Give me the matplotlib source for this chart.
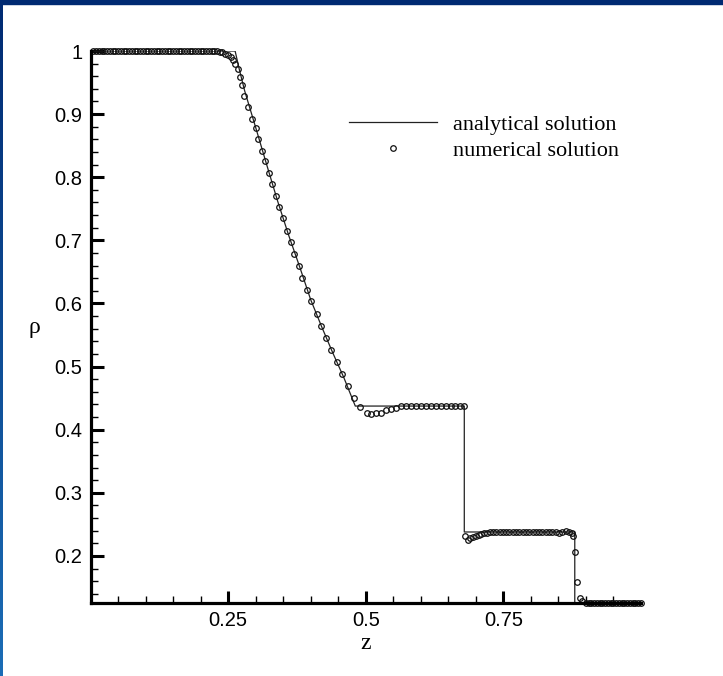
import numpy as np
import matplotlib
matplotlib.use("Agg")
import matplotlib.pyplot as plt
from matplotlib.patches import Rectangle

# analytical solution (exact Riemann solution)
z_exact = [0.0, 0.2627, 0.27, 0.28, 0.30, 0.32, 0.34, 0.36, 0.38, 0.40, 0.42,
           0.44, 0.46, 0.481, 0.679, 0.679, 0.8797, 0.8797, 1.0]
rho_exact = [1.0, 1.0, 0.972, 0.937, 0.879, 0.820, 0.762, 0.708, 0.658, 0.606,
             0.563, 0.522, 0.483, 0.4375, 0.4375, 0.238, 0.238, 0.125, 0.125]

# numerical solution, point by point
z_num = [
    0.005, 0.010, 0.015, 0.020, 0.025, 0.030, 0.035, 0.040, 0.045, 0.050,
    0.055, 0.060, 0.065, 0.070, 0.075, 0.080, 0.085, 0.090, 0.095, 0.100,
    0.105, 0.110, 0.115, 0.120, 0.125, 0.130, 0.135, 0.140, 0.145, 0.150,
    0.155, 0.160, 0.165, 0.170, 0.175, 0.180, 0.185, 0.190, 0.195, 0.200,
    0.205, 0.210, 0.215, 0.220, 0.225, 0.230, 0.235,
    0.2396, 0.2445, 0.2505, 0.2549, 0.2596, 0.2627, 0.2676, 0.2718, 0.2760,
    0.2796, 0.2869, 0.2942, 0.3004, 0.3051, 0.3113, 0.3173, 0.3245, 0.3295,
    0.3367, 0.3427, 0.3495, 0.3567, 0.3645, 0.3705, 0.3791, 0.3851, 0.3931,
    0.4009, 0.4113, 0.4191, 0.4276, 0.4373, 0.4476, 0.4567, 0.4676, 0.4778,
    0.4900, 0.5022, 0.5104, 0.5195, 0.5273, 0.5364, 0.5455, 0.5545, 0.5636,
    0.5727, 0.5818, 0.5909, 0.6000, 0.6090, 0.6180, 0.6270, 0.6360, 0.6450,
    0.6540, 0.6630, 0.6720, 0.6780,
    0.6809, 0.6850, 0.6900, 0.6950, 0.7000, 0.7050, 0.7100, 0.7150, 0.7200,
    0.7250, 0.7310, 0.7370, 0.7430, 0.7490, 0.7550, 0.7610, 0.7670, 0.7730,
    0.7790, 0.7850, 0.7910, 0.7970, 0.8030, 0.8090, 0.8150, 0.8210, 0.8270,
    0.8330, 0.8390, 0.8450, 0.8510, 0.8570, 0.8630, 0.8690, 0.8740,
    0.8770, 0.8805, 0.8838, 0.8888, 0.8930,
    0.900, 0.905, 0.910, 0.915, 0.920, 0.925, 0.930, 0.935, 0.940, 0.945,
    0.950, 0.955, 0.960, 0.965, 0.970, 0.975, 0.980, 0.985, 0.990, 0.995,
    1.000,
]
rho_num = [
    1.0, 1.0, 1.0, 1.0, 1.0, 1.0, 1.0, 1.0, 1.0, 1.0,
    1.0, 1.0, 1.0, 1.0, 1.0, 1.0, 1.0, 1.0, 1.0, 1.0,
    1.0, 1.0, 1.0, 1.0, 1.0, 1.0, 1.0, 1.0, 1.0, 1.0,
    1.0, 1.0, 1.0, 1.0, 1.0, 1.0, 1.0, 1.0, 1.0, 1.0,
    1.0, 1.0, 1.0, 1.0, 1.0, 1.0, 0.999,
    0.998, 0.996, 0.993, 0.990, 0.985, 0.979, 0.971, 0.959, 0.946,
    0.929, 0.912, 0.893, 0.878, 0.860, 0.842, 0.825, 0.807, 0.789,
    0.770, 0.753, 0.735, 0.715, 0.698, 0.679, 0.660, 0.641, 0.622,
    0.604, 0.584, 0.564, 0.546, 0.526, 0.508, 0.489, 0.469, 0.451,
    0.436, 0.427, 0.425, 0.426, 0.427, 0.431, 0.433, 0.435, 0.437,
    0.438, 0.438, 0.438, 0.438, 0.438, 0.438, 0.438, 0.438, 0.438,
    0.438, 0.438, 0.438, 0.438,
    0.231, 0.226, 0.228, 0.230, 0.232, 0.234, 0.235, 0.236, 0.237,
    0.238, 0.238, 0.238, 0.238, 0.238, 0.238, 0.238, 0.238, 0.238,
    0.238, 0.238, 0.238, 0.238, 0.238, 0.238, 0.238, 0.238, 0.238,
    0.238, 0.238, 0.238, 0.237, 0.238, 0.239, 0.238, 0.236,
    0.231, 0.207, 0.159, 0.134, 0.128,
    0.125, 0.125, 0.125, 0.125, 0.125, 0.125, 0.125, 0.125, 0.125, 0.125,
    0.125, 0.125, 0.125, 0.125, 0.125, 0.125, 0.125, 0.125, 0.125, 0.125,
    0.125,
]

x_major = [0.25, 0.5, 0.75]
x_major_labels = ["0.25", "0.5", "0.75"]
x_minor = [0.05, 0.10, 0.15, 0.20, 0.30, 0.35, 0.40, 0.45, 0.55, 0.60,
           0.65, 0.70, 0.80, 0.85, 0.90, 0.95]
y_major = [0.2, 0.3, 0.4, 0.5, 0.6, 0.7, 0.8, 0.9, 1.0]
y_major_labels = ["0.2", "0.3", "0.4", "0.5", "0.6", "0.7", "0.8", "0.9", "1"]
y_minor = [0.14, 0.16, 0.18, 0.22, 0.24, 0.26, 0.28, 0.32, 0.34, 0.36, 0.38,
           0.42, 0.44, 0.46, 0.48, 0.52, 0.54, 0.56, 0.58, 0.62, 0.64, 0.66,
           0.68, 0.72, 0.74, 0.76, 0.78, 0.82, 0.84, 0.86, 0.88, 0.92, 0.94,
           0.96, 0.98]

W, H = 723, 676
fig = plt.figure(figsize=(W / 100, H / 100), dpi=100)
fig.patch.set_facecolor("white")

# slide frame: navy bar on top, blue gradient bar on the left
fig.add_artist(Rectangle((0, 1 - 4 / H), 1, 4 / H, transform=fig.transFigure,
                         color="#002a72", zorder=5))
bar = fig.add_axes([0, 0, 3 / W, 1])
grad = np.linspace(0, 1, 256).reshape(-1, 1)
cmap = matplotlib.colors.LinearSegmentedColormap.from_list("frame", ["#1b6db6", "#002a72"])
bar.imshow(grad, aspect="auto", cmap=cmap, origin="lower")
bar.axis("off")

ax = fig.add_axes([90.5 / W, (H - 603) / H, (641 - 90.5) / W, (603 - 51) / H])

ax.plot(z_exact, rho_exact, color="#222222", lw=0.9, label="analytical solution")
ax.plot(z_num, rho_num, ls="none", marker="o", ms=4, mfc="none", mec="#111111",
        mew=0.9, clip_on=False, label="numerical solution")

ax.set_xlim(0.0, 1.0)
ax.set_ylim(0.1255, 1.0)

for s in ["top", "right"]:
    ax.spines[s].set_visible(False)
for s in ["left", "bottom"]:
    ax.spines[s].set_linewidth(2.3)

ax.set_xticks(x_major)
ax.set_xticklabels(x_major_labels)
ax.set_xticks(x_minor, minor=True)
ax.set_yticks(y_major)
ax.set_yticklabels(y_major_labels)
ax.set_yticks(y_minor, minor=True)
ax.tick_params(which="major", direction="in", length=9, width=2.2, pad=6,
               labelsize=14.5)
ax.tick_params(which="minor", direction="in", length=5, width=1.0)
for lab in ax.get_xticklabels() + ax.get_yticklabels():
    lab.set_family("Liberation Sans")

ax.set_xlabel("z", family="Liberation Serif", fontsize=17, labelpad=2)
ax.set_ylabel("ρ", family="Liberation Serif", fontsize=17, rotation=0,
              labelpad=14, va="center")

leg = ax.legend(loc="upper left", bbox_to_anchor=(349 / W, 1 - 114 / H),
                bbox_transform=fig.transFigure, frameon=False, numpoints=1,
                handlelength=3.96, handletextpad=0.72, labelspacing=0.25,
                borderpad=0, borderaxespad=0,
                prop={"family": "Liberation Serif", "size": 16})

fig.savefig("out.png", dpi=100)
